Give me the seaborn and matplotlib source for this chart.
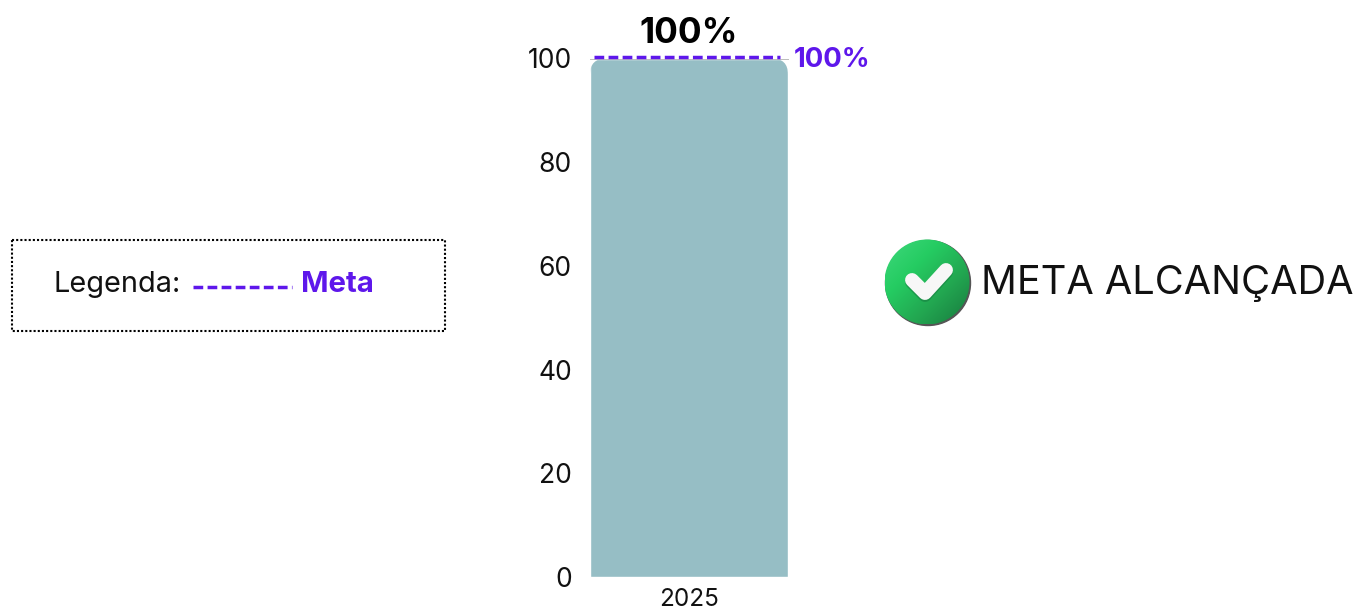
#!/usr/bin/env python3

import matplotlib
matplotlib.use("Agg")
import matplotlib.pyplot as plt
import matplotlib.patches as mpatches
from matplotlib.colors import LinearSegmentedColormap
from matplotlib.transforms import IdentityTransform, offset_copy
import numpy as np
import seaborn as sns

years = ["2025"]
values = [100]
meta = 100
y_ticks = [0, 20, 40, 60, 80, 100]

COLOUR_BAR = "#96BEC5"
COLOUR_META = "#5E17EB"
W, H = 1357, 609
META_DASH = (0, (2.8, 1.25))

sns.set_theme(style="white")
plt.rcParams["font.family"] = ["Inter", "DejaVu Sans"]

fig = plt.figure(figsize=(W / 100, H / 100), dpi=100)
ax = fig.add_axes([590 / W, 1 - 577 / H, 198 / W, (577 - 58.5) / H])

sns.barplot(x=years, y=values, color=COLOUR_BAR, saturation=1, width=1, ax=ax)
ax.set_xlim(-0.5, 0.5)
ax.set_ylim(0, 100)
ax.set_yticks(y_ticks)
ax.set_xlabel("")
ax.set_ylabel("")
for side in ["left", "right", "bottom"]:
    ax.spines[side].set_visible(False)
ax.spines["top"].set_color("#BBBBBB")
ax.spines["top"].set_linewidth(0.7)
ax.tick_params(axis="y", length=0, pad=13, labelsize=19, labelcolor="#111111")
ax.tick_params(axis="x", length=0, pad=8, labelsize=17.5, labelcolor="#111111")

# round the top corners of the bar
fig.canvas.draw()
bar = ax.patches[0]
x0, y0 = ax.transData.transform((bar.get_x(), 0))
x1, y1 = ax.transData.transform((bar.get_x() + bar.get_width(), values[0]))
r = 16
clip = mpatches.FancyBboxPatch(
    (x0 + r, y0 - 2 * r),
    x1 - x0 - 2 * r,
    y1 - y0 + r,
    boxstyle="round,pad={},rounding_size={}".format(r, r),
    transform=IdentityTransform(),
)
bar.set_clip_path(clip)

# target line and labels
ax.plot(
    [0.02, 0.96],
    [meta, meta],
    transform=offset_copy(ax.get_yaxis_transform(), fig=fig, y=1.5, units="dots"),
    color=COLOUR_META,
    linewidth=2.5,
    linestyle=META_DASH,
    clip_on=False,
    zorder=5,
)
ax.text(
    0.5,
    104.8,
    "{}%".format(values[0]),
    transform=ax.get_yaxis_transform(),
    ha="center",
    va="center",
    fontsize=25.3,
    fontweight="bold",
    color="black",
)
ax.text(
    1.03,
    meta - 0.2,
    "{}%".format(meta),
    transform=ax.get_yaxis_transform(),
    ha="left",
    va="center",
    fontsize=19.8,
    fontweight="bold",
    color=COLOUR_META,
)

# overlay in pixel coordinates for the legend box and the status icon
over = fig.add_axes([0, 0, 1, 1], facecolor="none")
over.set_axis_off()

over.add_patch(
    mpatches.Rectangle(
        (12, 240), 433, 91, fill=False, edgecolor="black", linewidth=1.5, linestyle=(0, (1, 1))
    )
)
over.text(53, 284, "Legenda:", ha="left", va="center", fontsize=20.8, color="#111111")
over.plot(
    [193, 292],
    [287, 287],
    color=COLOUR_META,
    linewidth=2.5,
    linestyle=META_DASH,
)
over.text(301, 284, "Meta", ha="left", va="center", fontsize=21.2, fontweight="bold", color=COLOUR_META)

# check icon
over.add_patch(mpatches.Circle((928, 283), 42.5, color="#555555", zorder=2))
cmap = LinearSegmentedColormap.from_list("icon", ["#3FD87C", "#25CC62", "#22A550", "#187A3E"])
grid = np.linspace(0, 1, 100)
img = over.imshow(
    np.add.outer(grid, grid) / 2,
    cmap=cmap,
    extent=(885, 970, 324, 239),
    zorder=3,
    aspect="auto",
)
img.set_clip_path(mpatches.Circle((927, 282), 42.5, transform=over.transData))
over.plot(
    [912, 925, 946],
    [282, 295, 272],
    color="#14703A",
    alpha=0.45,
    linewidth=10,
    solid_capstyle="round",
    solid_joinstyle="round",
    zorder=4,
)
over.plot(
    [912, 925, 946],
    [280, 293, 270],
    color="#F7F7F7",
    linewidth=10,
    solid_capstyle="round",
    solid_joinstyle="round",
    zorder=5,
)
over.text(981, 284, "META ALCANÇADA", ha="left", va="center", fontsize=28.6, color="#111111")
over.set_xlim(0, W)
over.set_ylim(H, 0)

fig.savefig("out.png", dpi=100)
